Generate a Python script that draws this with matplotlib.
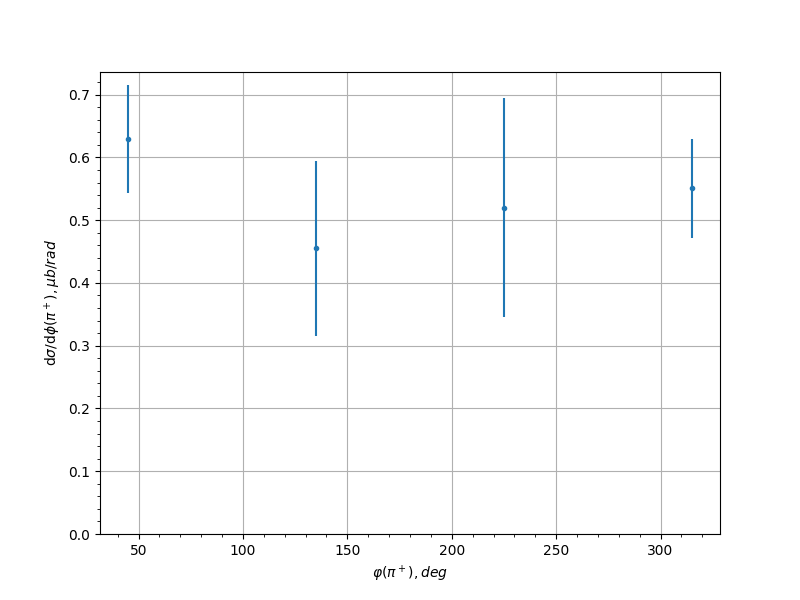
import numpy as np
import matplotlib
matplotlib.use("Agg")
import matplotlib.pyplot as plt

# azimuthal angle bins (deg) and cross section values
phi = [45, 135, 225, 315]
xsec = [0.630, 0.455, 0.520, 0.551]
xsec_err = [0.086, 0.140, 0.175, 0.079]

fig, ax = plt.subplots(figsize=(8, 6), dpi=100)
ax.errorbar(phi, xsec, yerr=xsec_err, fmt='.', markersize=6)
ax.set_ylim(bottom=0)
ax.minorticks_on()
ax.grid(which='major')
ax.set_xlabel(r'$\varphi(\pi^+), deg$')
ax.set_ylabel(r'd$\sigma$/d$\phi(\pi^+), \mu b/rad$')
fig.savefig("out.png")
